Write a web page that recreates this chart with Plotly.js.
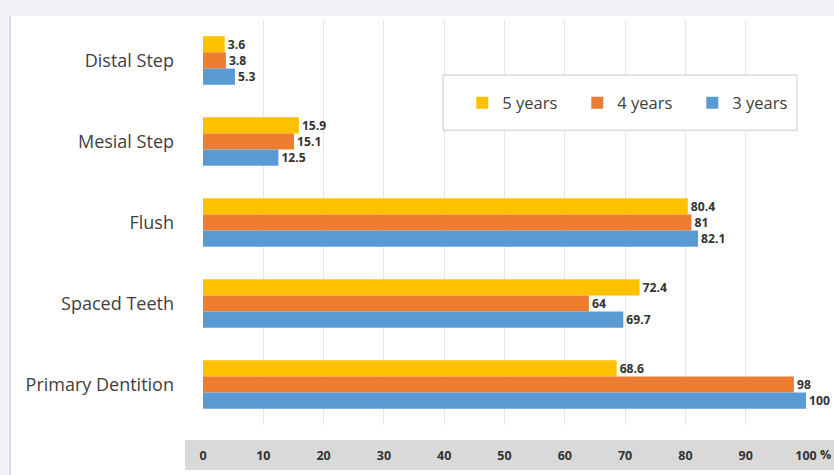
<!DOCTYPE html>
<html><head><meta charset="utf-8">
<script src="https://cdn.plot.ly/plotly-3.0.1.min.js"></script>
<style>html,body{margin:0;padding:0;background:#fff}#c{width:834px;height:475px}</style>
</head><body><div id="c"></div>
<script>
const categories = ["Distal Step", "Mesial Step", "Flush", "Spaced Teeth", "Primary Dentition"];
const years5 = [3.6, 15.9, 80.4, 72.4, 68.6];
const years4 = [3.8, 15.1, 81, 64, 98];
const years3 = [5.3, 12.5, 82.1, 69.7, 100];
const seriesNames = ["5 years", "4 years", "3 years"];
const xTicks = [0, 10, 20, 30, 40, 50, 60, 70, 80, 90, 100];

const colors = ["#FFC000", "#ED7D31", "#5B9BD5"];
const F = "'Open Sans', sans-serif";
const data = [years5, years4, years3].map((vals, i) => ({
  type: "bar", orientation: "h", name: seriesNames[i],
  y: categories, x: vals, marker: {color: colors[i]},
  text: vals.map(String), textposition: "outside", cliponaxis: false,
  textfont: {family: F, size: 13.5, color: "#333", weight: "bold"},
  hoverinfo: "x+name"
}));

const layout = {
  width: 834, height: 475,
  margin: {l: 203, r: 28, t: 20, b: 50, autoexpand: false},
  paper_bgcolor: "#fff", plot_bgcolor: "#fff",
  barmode: "group", bargap: 0.4, bargroupgap: 0,
  font: {family: F, color: "#333"},
  xaxis: {range: [0, 100], tickvals: xTicks, showgrid: true, gridcolor: "#e6e6e6",
          zeroline: false, showline: false, ticklabelstandoff: 21, automargin: false,
          tickfont: {size: 12.5, color: "#333", weight: "bold"}},
  yaxis: {categoryorder: "array", categoryarray: categories, autorange: "reversed",
          showgrid: false, showline: false, ticklabelstandoff: 28, automargin: false,
          tickfont: {size: 18, color: "#404040"}},
  showlegend: true,
  legend: {orientation: "h", x: 0.43, y: 0.795, xanchor: "left", yanchor: "middle",
           bgcolor: "rgba(0,0,0,0)", traceorder: "normal", entrywidth: 70,
           font: {family: F, size: 16.5, color: "#404040"}, itemwidth: 30},
  shapes: [
    {type: "rect", xref: "paper", yref: "paper", x0: -0.34, x1: 1.05, y0: 1.01, y1: 1.06,
     fillcolor: "#f0f2f7", line: {width: 0}, layer: "below"},
    {type: "rect", xref: "paper", yref: "paper", x0: -0.34, x1: -0.322, y0: -0.13, y1: 1.06,
     fillcolor: "#f0f2f7", line: {width: 0}, layer: "below"},
    {type: "rect", xref: "paper", yref: "paper", x0: -0.03, x1: 1.05, y0: -0.111, y1: -0.037,
     fillcolor: "#d9d9d9", line: {width: 0}, layer: "below"},
    {type: "line", xref: "paper", yref: "paper", x0: -0.32, x1: -0.32, y0: 1.01, y1: -0.13,
     line: {color: "#cfcfcf", width: 1.5}},
    {type: "rect", xref: "paper", yref: "paper", x0: 0.398, x1: 0.985, y0: 0.728, y1: 0.864,
     fillcolor: "#fff", line: {color: "#c8c8c8", width: 1}, layer: "above"}
  ],
  annotations: [
    {text: "%", xref: "x", yref: "paper", x: 100, y: -0.074, yanchor: "middle", xshift: 19,
     showarrow: false, font: {family: F, size: 12.5, color: "#333", weight: "bold"}}
  ]
};
Plotly.newPlot("c", data, layout, {displayModeBar: false});
</script></body></html>
